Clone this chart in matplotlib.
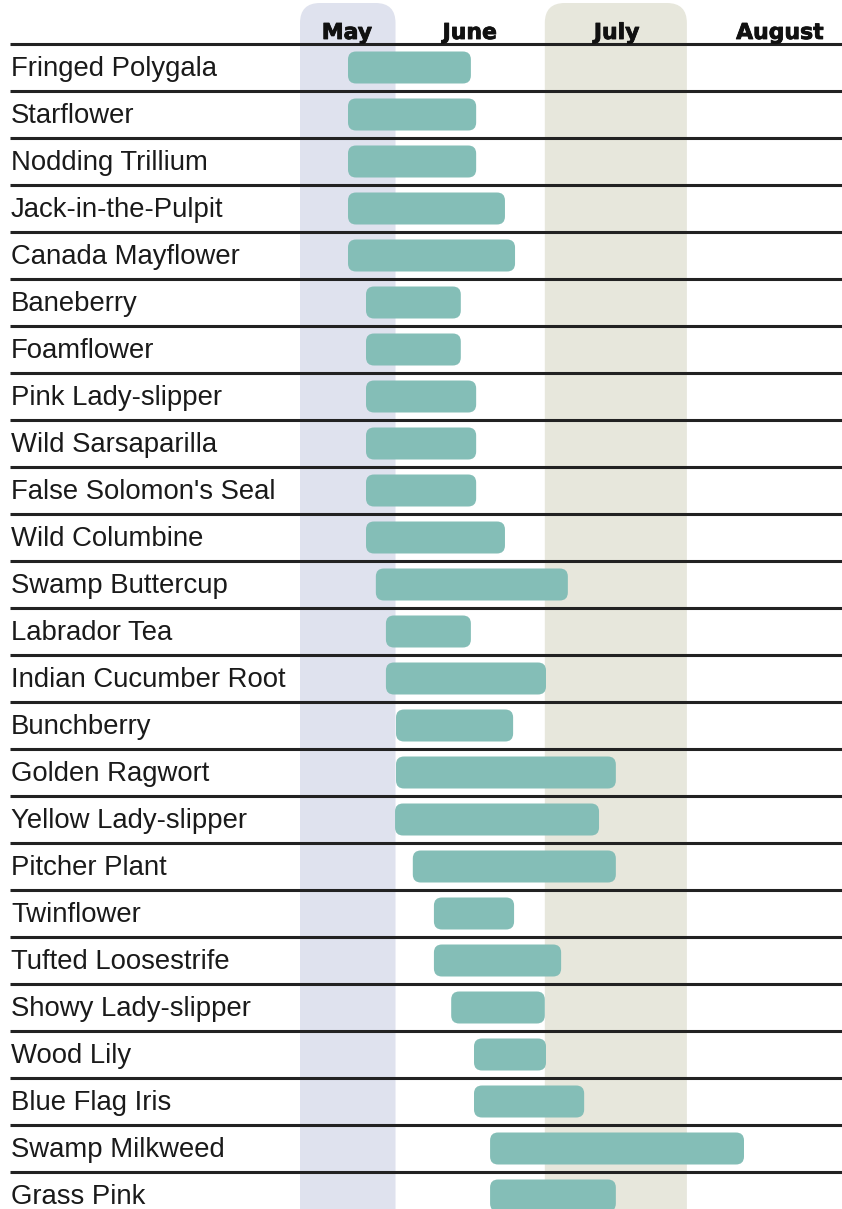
import matplotlib
matplotlib.use("Agg")
import matplotlib.pyplot as plt
from matplotlib.patches import FancyBboxPatch
import matplotlib.patheffects as pe

# ---- data (bloom period, days after May 1) ----
plants = ["Fringed Polygala", "Starflower", "Nodding Trillium", "Jack-in-the-Pulpit",
          "Canada Mayflower", "Baneberry", "Foamflower", "Pink Lady-slipper",
          "Wild Sarsaparilla", "False Solomon's Seal", "Wild Columbine",
          "Swamp Buttercup", "Labrador Tea", "Indian Cucumber Root", "Bunchberry",
          "Golden Ragwort", "Yellow Lady-slipper", "Pitcher Plant", "Twinflower",
          "Tufted Loosestrife", "Showy Lady-slipper", "Wood Lily", "Blue Flag Iris",
          "Swamp Milkweed", "Grass Pink"]
bloom_start = [10.0, 10.0, 10.0, 10.0, 10.0, 13.75, 13.75, 13.75, 13.75, 13.75, 13.75,
               15.8, 17.9, 17.9, 20.0, 20.0, 19.8, 23.5, 27.9, 27.9, 31.5, 36.25, 36.25,
               39.6, 39.6]
bloom_end = [35.6, 36.7, 36.7, 42.7, 44.8, 33.5, 33.5, 36.7, 36.7, 36.7, 42.7,
             55.8, 35.6, 51.25, 44.4, 65.8, 62.3, 65.8, 44.6, 54.4, 51.0, 51.25, 59.2,
             92.5, 65.8]
months = ["May", "June", "July", "August"]

# ---- layout / style ----
month_x = [9.8, 35.4, 66.0, 100.0]
shade_cols = [(0.0, 19.9, "#dfe2ee"), (51.0, 80.6, "#e7e7dc")]
bar_color = "#84beb7"
line_color = "#222222"

W, H = 842, 1209
fig = plt.figure(figsize=(W / 100, H / 100), dpi=100)
ax = fig.add_axes([0, 0, 1, 1])
px_per_x = 4.8
row_px = 47.0
top_line_px = 44.0
x0 = -300 / px_per_x
x1 = (W - 300) / px_per_x
y_top = -0.5 - top_line_px / row_px
y_bot = -0.5 + (H - top_line_px) / row_px
ax.set_xlim(x0, x1)
ax.set_ylim(y_bot, y_top)
ax.axis("off")

aspect = px_per_x / row_px

# shaded month columns with rounded tops
for a, b, c in shade_cols:
    r = 20 / px_per_x
    p = FancyBboxPatch((a, y_top + 3 / row_px), b - a, 30,
                       boxstyle=f"round,pad=0,rounding_size={r}",
                       mutation_aspect=aspect, fc=c, ec="none", zorder=0)
    ax.add_patch(p)

# horizontal rules
lx0 = x0 + 10 / px_per_x
for i in range(len(plants)):
    ax.plot([lx0, x1], [i - 0.5, i - 0.5], color=line_color, lw=2.2,
            solid_capstyle="butt", zorder=2)

# bars
bh = 32 / row_px
for i, (s, e) in enumerate(zip(bloom_start, bloom_end)):
    r = 8 / px_per_x
    p = FancyBboxPatch((s, i - bh / 2), e - s, bh,
                       boxstyle=f"round,pad=0,rounding_size={r}",
                       mutation_aspect=aspect, fc=bar_color, ec="none", zorder=3)
    ax.add_patch(p)

# labels
for i, name in enumerate(plants):
    ax.text(x0 + 11 / px_per_x, i + 0.03, name, ha="left", va="center",
            fontsize=19.8, family=["Liberation Sans", "DejaVu Sans"],
            color="#1a1a1a", zorder=4)

for m, x in zip(months, month_x):
    ax.text(x, -0.5 - 5 / row_px, m, ha="center", va="baseline",
            fontsize=15.8, fontweight="bold", family=["DejaVu Sans"],
            color="#111111", zorder=4,
            path_effects=[pe.withStroke(linewidth=0.6, foreground="#111111")])

fig.savefig("out.png", dpi=100)
